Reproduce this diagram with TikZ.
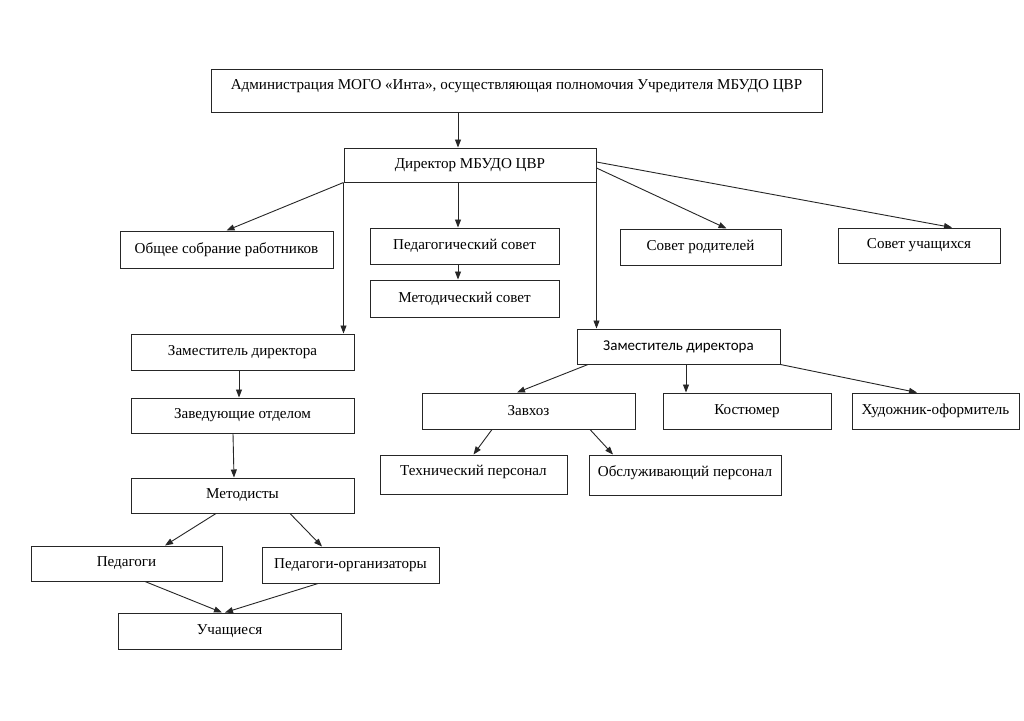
\documentclass[tikz,border=0pt]{standalone}
\usepackage{fontspec}
\setmainfont{Liberation Serif}
\newfontfamily\calib{Carlito}
\usetikzlibrary{arrows.meta}
\begin{document}
\begin{tikzpicture}[x=1pt,y=-1pt,
  box/.style={draw=black!85, line width=1pt, inner sep=2pt, font=\fontsize{15.1}{18}\selectfont},
  arr/.style={draw=black!85, line width=0.9pt, -{Triangle[length=8pt,width=6pt]}}]
\useasboundingbox[fill=white] (0,0) rectangle (1024,720);
% nodes
\node[box, minimum width=611pt, minimum height=43pt, text depth=13pt] (admin) at (516.5,90.5) {Администрация МОГО «Инта», осуществляющая полномочия Учредителя МБУДО ЦВР};
\node[box, minimum width=252pt, minimum height=34pt] (dir) at (470,165) {Директор МБУДО ЦВР};
\node[box, minimum width=213pt, minimum height=37pt] (obsh) at (226.5,249.5) {Общее собрание работников};
\node[box, minimum width=189pt, minimum height=36pt] (ped) at (464.5,246) {Педагогический совет};
\node[box, minimum width=189pt, minimum height=37pt] (met) at (464.5,298.5) {Методический совет};
\node[box, minimum width=161pt, minimum height=36pt] (rod) at (700.5,247) {Совет родителей};
\node[box, minimum width=162pt, minimum height=35pt] (uch) at (919,245.5) {Совет учащихся};
\node[box, minimum width=223pt, minimum height=36pt] (zamL) at (242.5,352) {Заместитель директора};
\node[box, minimum width=223pt, minimum height=35pt] (zav) at (242.5,415.5) {Заведующие отделом};
\node[box, minimum width=223pt, minimum height=35pt] (metod) at (242.5,495.5) {Методисты};
\node[box, minimum width=191pt, minimum height=35pt] (pedag) at (126.5,563.5) {Педагоги};
\node[box, minimum width=177pt, minimum height=36pt] (pedorg) at (350.5,565) {Педагоги-организаторы};
\node[box, minimum width=223pt, minimum height=36pt] (uchas) at (229.5,631) {Учащиеся};
\node[box, minimum width=203pt, minimum height=35pt, font=\calib\fontsize{15}{18}\selectfont] (zamR) at (678.5,346.5) {Заместитель директора};
\node[box, minimum width=213pt, minimum height=36pt] (zavhoz) at (528.5,411) {Завхоз};
\node[box, minimum width=168pt, minimum height=36pt] (kost) at (747,411) {Костюмер};
\node[box, minimum width=167pt, minimum height=36pt] (hud) at (935.5,411) {Художник-оформитель};
\node[box, minimum width=187pt, minimum height=39pt, text depth=8pt] (tech) at (473.5,474.5) {Технический персонал};
\node[box, minimum width=192pt, minimum height=40pt, text depth=8pt] (obsl) at (685,475) {Обслуживающий персонал};
% connectors
\draw[arr] ([xshift=-12pt]dir.north |- admin.south) -- ([xshift=-12pt]dir.north);
\draw[arr] (dir.south west) -- (dir.south west |- zamL.north);
\draw[arr] (dir.south east) -- (dir.south east |- zamR.north);
\draw[arr] (dir.south west) -- (obsh.north);
\draw[arr] ([xshift=-12pt]dir.south) -- ([xshift=-12pt]dir.south |- ped.north);
\draw[arr] ([yshift=-3pt]dir.east) -- ([xshift=26pt]rod.north);
\draw[arr] ([yshift=3pt]dir.east) -- ([xshift=33pt]uch.north);
\draw[arr] ([xshift=-6.5pt]ped.south) -- ([xshift=-6.5pt]met.north);
\draw[arr] ([xshift=-3.5pt]zamL.south) -- ([xshift=-3.5pt]zav.north);
\draw[arr] ([xshift=-9.5pt]zav.south) -- ([xshift=-8.5pt]metod.north);
\draw[arr] ([xshift=-26.5pt]metod.south) -- ([xshift=38.5pt]pedag.north);
\draw[arr] ([xshift=47.5pt]metod.south) -- ([xshift=-28.5pt]pedorg.north);
\draw[arr] ([xshift=18.5pt]pedag.south) -- ([xshift=-7.5pt]uchas.north);
\draw[arr] ([xshift=-32.5pt]pedorg.south) -- ([xshift=-4.5pt]uchas.north);
\draw[arr] ([xshift=-90.5pt]zamR.south) -- ([xshift=-11.5pt]zavhoz.north);
\draw[arr] ([xshift=7.5pt]zamR.south) -- ([xshift=7.5pt]zamR.south |- kost.north);
\draw[arr] (zamR.south east) -- ([xshift=-18.5pt]hud.north);
\draw[arr] ([xshift=-36.5pt]zavhoz.south) -- (tech.north);
\draw[arr] ([xshift=61.5pt]zavhoz.south) -- ([xshift=-72pt]obsl.north);
\end{tikzpicture}
\end{document}
